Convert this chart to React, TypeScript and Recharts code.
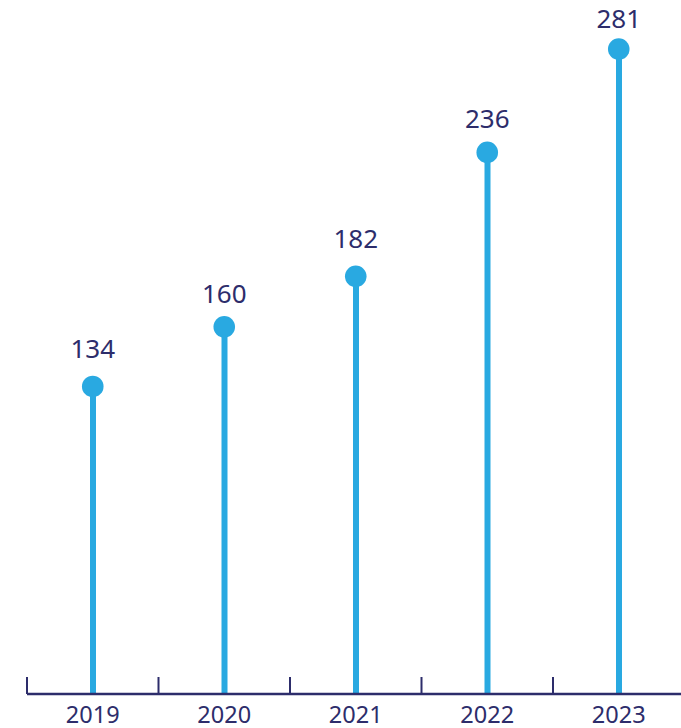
import React from 'react';
import { ComposedChart, Bar, Line, XAxis, YAxis, LabelList, ReferenceLine } from 'recharts';

const years = ['2019', '2020', '2021', '2022', '2023'];
const values = [134, 160, 182, 236, 281];
const boundaryTicks = [0, 1, 2, 3, 4];
// gap (px) between each dot centre and its label baseline, as in the reference
const labelGaps = [28, 24, 28, 24, 21];

const data = years.map((year, i) => ({ year, value: values[i], slot: i + 0.5 }));

const NAVY = '#2D2D6B';
const BLUE = '#29A9E1';
const FONT = '"Noto Sans", sans-serif';
const TICK_UNITS = 17 / 2.295; // tick mark height in value units

const ValueLabel = (props: any) => {
  const { x, y, value, index } = props;
  return (
    <text x={x} y={y - labelGaps[index]} textAnchor="middle" fill={NAVY} fontSize={26} fontFamily={FONT}>
      {value}
    </text>
  );
};

export default function App() {
  return (
    <div style={{ position: 'absolute', left: 0, top: 0, width: 681, height: 728, overflow: 'hidden', background: '#fff' }}>
      <ComposedChart width={690} height={728} data={data} margin={{ top: 5.5, right: 5.5, left: 27, bottom: 0 }}>
        <XAxis xAxisId="grid" dataKey="slot" type="number" domain={[0, 5]} allowDataOverflow hide />
        <XAxis
          xAxisId="cat"
          dataKey="year"
          height={34}
          axisLine={{ stroke: NAVY, strokeWidth: 2.3 }}
          tickLine={false}
          tickSize={0}
          tickMargin={12}
          tick={{ fill: NAVY, fontSize: 23.5, fontFamily: FONT }}
          interval={0}
        />
        <YAxis hide domain={[0, 300]} />
        {boundaryTicks.map((t) => (
          <ReferenceLine
            key={t}
            xAxisId="grid"
            segment={[{ x: t, y: 0 }, { x: t, y: TICK_UNITS }]}
            stroke={NAVY}
            strokeWidth={2}
            ifOverflow="visible"
          />
        ))}
        <Bar xAxisId="cat" dataKey="value" barSize={6} fill={BLUE} isAnimationActive={false} />
        <Line
          xAxisId="cat"
          dataKey="value"
          stroke="none"
          dot={{ r: 10.8, fill: BLUE, stroke: 'none' }}
          activeDot={false}
          isAnimationActive={false}
        >
          <LabelList dataKey="value" content={ValueLabel} />
        </Line>
      </ComposedChart>
    </div>
  );
}
